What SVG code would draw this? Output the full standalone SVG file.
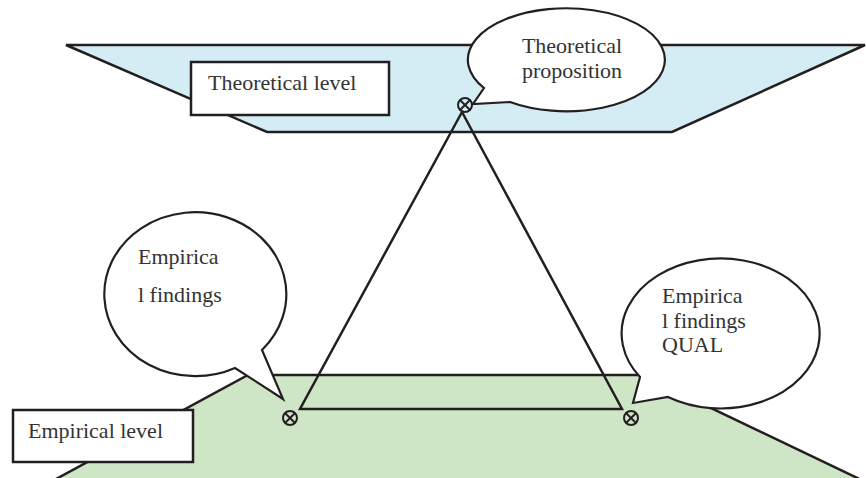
<svg xmlns="http://www.w3.org/2000/svg" width="866" height="478" viewBox="0 0 866 478">
<defs>
<style>
.plane{stroke:#231f20;stroke-width:2.5;stroke-linejoin:miter}
.box{fill:#fff;stroke:#231f20;stroke-width:2.5}
.bubble{fill:#fff;stroke:#231f20;stroke-width:2.2;stroke-linejoin:miter}
.lbl{font-family:"Liberation Serif","Times New Roman",serif;font-size:22px;fill:#333}
.edge{fill:none;stroke:#231f20;stroke-width:2.5}
.otimes{fill:none;stroke:#231f20;stroke-width:2}
</style>
<g id="otimes-sym">
<circle cx="0" cy="0" r="7" class="otimes"/>
<line x1="-5" y1="-5" x2="5" y2="5" class="otimes"/>
<line x1="-5" y1="5" x2="5" y2="-5" class="otimes"/>
</g>
</defs>
<rect width="866" height="478" fill="#fff"/>
<g id="theoretical-plane">
<polygon class="plane" fill="#d4ecf3" points="66,45 865,45 672,132 267,132"/>
</g>
<g id="empirical-plane">
<polygon class="plane" fill="#cfe6c6" points="248,375 642,375 872,485 45,485"/>
</g>
<g id="theoretical-level">
<rect class="box" x="191" y="62" width="198" height="53"/>
<text class="lbl" x="208" y="90">Theoretical level</text>
</g>
<g id="empirical-level">
<rect class="box" x="13" y="410" width="180" height="52"/>
<text class="lbl" x="28" y="438">Empirical level</text>
</g>
<g id="connectors">
<polygon class="edge" points="462,112 300,409 622,409"/>
</g>
<g id="theoretical-proposition">
<path class="bubble" d="M 510,102 A 98.5 51.5 0 1 0 484,88 L 473,104 Z"/>
<text class="lbl" x="572" y="53" text-anchor="middle">Theoretical</text>
<text class="lbl" x="572" y="78" text-anchor="middle">proposition</text>
</g>
<g id="empirical-findings">
<path class="bubble" d="M 235,368 A 91 82 0 1 1 262,350 L 283,399 Z"/>
<text class="lbl" x="138" y="264">Empirica</text>
<text class="lbl" x="138" y="302">l findings</text>
</g>
<g id="empirical-findings-qual">
<path class="bubble" d="M 668,397 A 99 75 0 1 0 640,377 L 633,403 Z"/>
<text class="lbl" x="662" y="303">Empirica</text>
<text class="lbl" x="662" y="328">l findings</text>
<text class="lbl" x="662" y="352">QUAL</text>
</g>
<g id="point-theory"><use href="#otimes-sym" x="465" y="105"/></g>
<g id="point-empirical-left"><use href="#otimes-sym" x="290" y="418"/></g>
<g id="point-empirical-right"><use href="#otimes-sym" x="631" y="418"/></g>
</svg>
